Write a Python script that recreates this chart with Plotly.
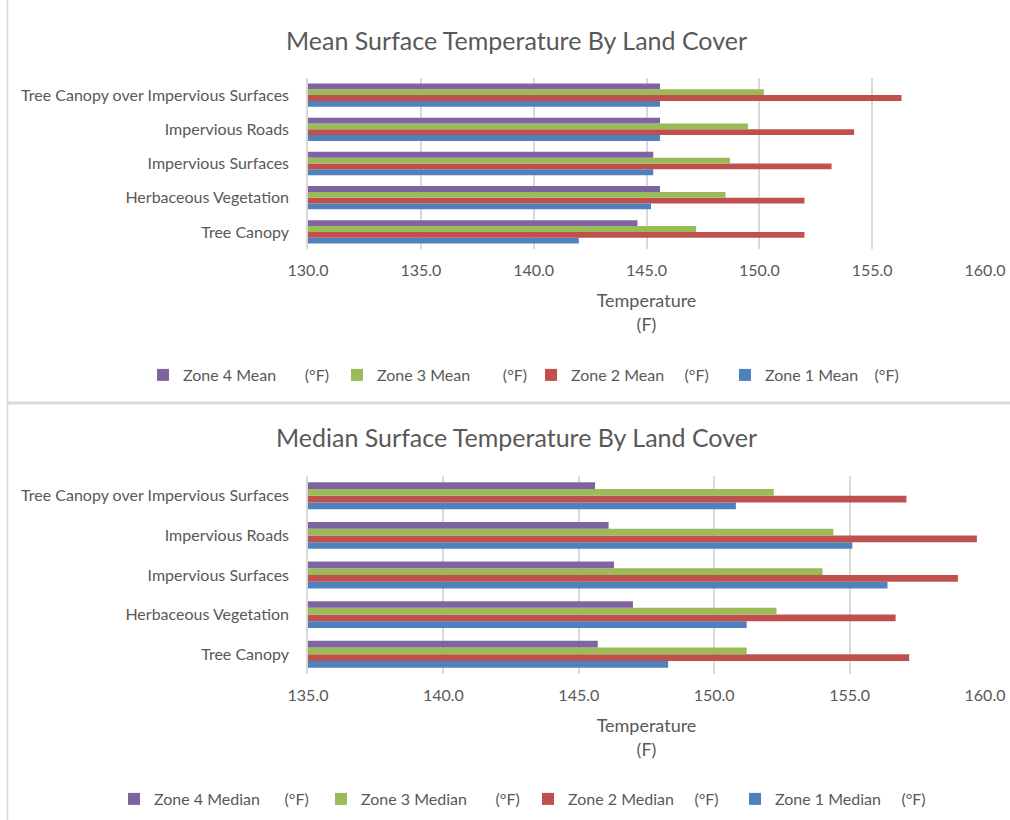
import plotly.graph_objects as go

categories = ["Tree Canopy", "Herbaceous Vegetation", "Impervious Surfaces",
              "Impervious Roads", "Tree Canopy over Impervious Surfaces"]

# Mean surface temperature (°F)
mean_zone1 = [142.0, 145.2, 145.3, 145.6, 145.6]
mean_zone2 = [152.0, 152.0, 153.2, 154.2, 156.3]
mean_zone3 = [147.2, 148.5, 148.7, 149.5, 150.2]
mean_zone4 = [144.6, 145.6, 145.3, 145.6, 145.6]

# Median surface temperature (°F)
median_zone1 = [148.3, 151.2, 156.4, 155.1, 150.8]
median_zone2 = [157.2, 156.7, 159.0, 159.7, 157.1]
median_zone3 = [151.2, 152.3, 154.0, 154.4, 152.2]
median_zone4 = [145.7, 147.0, 146.3, 146.1, 145.6]

mean_names = ["Zone 1 Mean", "Zone 2 Mean", "Zone 3 Mean", "Zone 4 Mean"]
median_names = ["Zone 1 Median", "Zone 2 Median", "Zone 3 Median", "Zone 4 Median"]
mean_gaps = [4, 5, 8, 7]
median_gaps = [5, 5, 7, 6]

colors = ["#4F81BD", "#C0504D", "#9BBB59", "#8064A2"]
FONT = "Lato"
TXT = "#595959"
GRID = "#d9d9d9"

fig = go.Figure()

nb = "\u00a0"
for i, vals in enumerate([mean_zone1, mean_zone2, mean_zone3, mean_zone4]):
    fig.add_trace(go.Bar(
        y=categories, x=vals, orientation="h",
        name=mean_names[i] + nb * mean_gaps[i] + "(°F)",
        marker=dict(color=colors[i], line=dict(width=0)),
        xaxis="x", yaxis="y", legend="legend"))

for i, vals in enumerate([median_zone1, median_zone2, median_zone3, median_zone4]):
    fig.add_trace(go.Bar(
        y=categories, x=vals, orientation="h",
        name=median_names[i] + nb * median_gaps[i] + "(°F)",
        marker=dict(color=colors[i], line=dict(width=0)),
        xaxis="x2", yaxis="y2", legend="legend2"))

# body margin removed via post_script, so figure sits at (0, 0)
OFF = 0
W, H = 1010, 820
def px_x(p):
    return (p - OFF) / W
def px_y(p):
    return 1 - (p - OFF) / H

axis_common = dict(
    showgrid=True, gridcolor=GRID, gridwidth=1.5, dtick=5, tickformat=".1f",
    zeroline=False, showline=False, ticks="", ticklabelstandoff=10, automargin=False,
    tickfont=dict(family=FONT, size=16, color=TXT),
    title=dict(text="Temperature<br>(F)", font=dict(family=FONT, size=18, color=TXT), standoff=16),
    fixedrange=True,
)
yaxis_common = dict(
    showgrid=False, showline=True, linecolor=GRID, linewidth=1.5, ticks="", automargin=False,
    ticklabelstandoff=14, tickfont=dict(family=FONT, size=16, color=TXT),
    categoryorder="array", categoryarray=categories, fixedrange=True,
)

fig.update_layout(
    width=W, height=H,
    margin=dict(l=0, r=0, t=0, b=0),
    paper_bgcolor="white", plot_bgcolor="white",
    barmode="group", bargap=0.32, bargroupgap=0,
    font=dict(family=FONT, color=TXT),
    xaxis=dict(domain=[px_x(308), px_x(985)], range=[130, 160], anchor="y", **axis_common),
    yaxis=dict(domain=[px_y(249), px_y(78)], anchor="x", **yaxis_common),
    xaxis2=dict(domain=[px_x(308), px_x(985)], range=[135, 160], anchor="y2", **axis_common),
    yaxis2=dict(domain=[px_y(674), px_y(476)], anchor="x2", **yaxis_common),
    legend=dict(orientation="h", x=px_x(143), xanchor="left", y=px_y(375), yanchor="middle",
                traceorder="reversed", entrywidth=149, entrywidthmode="pixels",
                font=dict(family=FONT, size=16, color=TXT), itemclick=False),
    legend2=dict(orientation="h", x=px_x(114), xanchor="left", y=px_y(799), yanchor="middle",
                 traceorder="reversed", entrywidth=162, entrywidthmode="pixels",
                 font=dict(family=FONT, size=16, color=TXT), itemclick=False),
    annotations=[
        dict(text="Mean Surface Temperature By Land Cover", x=px_x(516), y=px_y(40),
             xref="paper", yref="paper", showarrow=False, xanchor="center", yanchor="middle",
             font=dict(family=FONT, size=25, color=TXT)),
        dict(text="Median Surface Temperature By Land Cover", x=px_x(516), y=px_y(437),
             xref="paper", yref="paper", showarrow=False, xanchor="center", yanchor="middle",
             font=dict(family=FONT, size=25, color=TXT)),
    ],
    shapes=[
        dict(type="line", xref="paper", yref="paper", x0=px_x(7.5), x1=px_x(7.5), y0=0, y1=1,
             line=dict(color=GRID, width=1.5)),
        dict(type="line", xref="paper", yref="paper", x0=px_x(7.5), x1=1, y0=px_y(403), y1=px_y(403),
             line=dict(color=GRID, width=3)),
    ],
)

fig.write_html("out.html", config={"displayModeBar": False},
               post_script="document.body.style.margin='0';")
